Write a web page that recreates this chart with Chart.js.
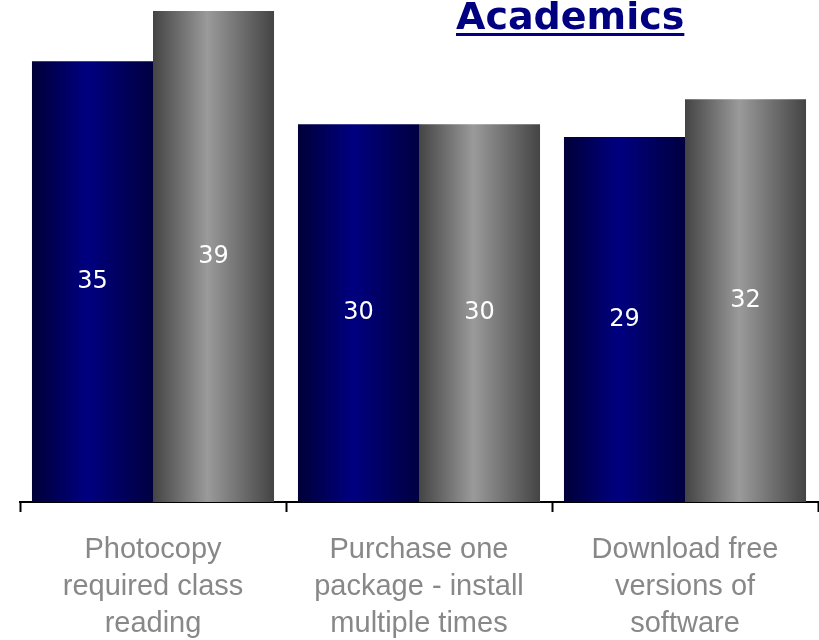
<!DOCTYPE html>
<html>
<head>
<meta charset="utf-8">
<script src="https://cdn.jsdelivr.net/npm/chart.js@4"></script>
<style>
  body { margin: 0; background: #fff; }
  #wrap { position: relative; width: 819px; height: 640px; }
  #title {
    position: absolute; left: 456px; top: -6px; line-height: 38px;
    font: bold 38px "DejaVu Sans", Verdana, sans-serif;
    color: #000080; text-decoration: underline;
    text-decoration-thickness: 3px; text-underline-offset: 4px;
  }
</style>
</head>
<body>
<div id="wrap">
  <canvas id="chart" width="819" height="640"></canvas>
  <div id="title">Academics</div>
</div>
<script>
const categories = [
    ['Photocopy', 'required class', 'reading'],
    ['Purchase one', 'package - install', 'multiple times'],
    ['Download free', 'versions of', 'software']
];
const seriesA = [35, 30, 29];
const seriesB = [39, 30, 32];

// horizontal cylinder-like shading for each bar
const shading = {
    id: 'shading',
    beforeDatasetsDraw(chart) {
        const ctx = chart.ctx;
        const stops = [
            ['#000038', '#000080', '#000040'],
            ['#444444', '#9a9a9a', '#444444']
        ];
        chart.data.datasets.forEach((ds, i) => {
            chart.getDatasetMeta(i).data.forEach(bar => {
                const left = bar.x - bar.width / 2;
                const g = ctx.createLinearGradient(left, 0, left + bar.width, 0);
                g.addColorStop(0, stops[i][0]);
                g.addColorStop(0.45, stops[i][1]);
                g.addColorStop(1, stops[i][2]);
                bar.options.backgroundColor = g;
            });
        });
    }
};

const valueLabels = {
    id: 'valueLabels',
    afterDatasetsDraw(chart) {
        const ctx = chart.ctx;
        ctx.save();
        ctx.fillStyle = '#ffffff';
        ctx.font = '24px "DejaVu Sans", Verdana, sans-serif';
        ctx.textAlign = 'center';
        ctx.textBaseline = 'middle';
        chart.data.datasets.forEach((ds, i) => {
            chart.getDatasetMeta(i).data.forEach((bar, j) => {
                ctx.fillText(ds.data[j], bar.x, (bar.y + bar.base) / 2);
            });
        });
        ctx.restore();
    }
};

new Chart(document.getElementById('chart').getContext('2d'), {
    type: 'bar',
    data: {
        labels: categories,
        datasets: [
            // scriptable colour keeps each bar's options separate, the plugin fills them in
            { label: 'A', data: seriesA, backgroundColor: () => '#000080' },
            { label: 'B', data: seriesB, backgroundColor: () => '#888888' }
        ]
    },
    options: {
        responsive: false,
        animation: false,
        layout: { padding: { left: 20, right: 1, top: 11, bottom: 0 } },
        datasets: { bar: { categoryPercentage: 0.91, barPercentage: 1.0 } },
        plugins: { legend: { display: false }, tooltip: { enabled: false } },
        scales: {
            x: {
                afterFit(scale) { scale.height = 138; },
                grid: {
                    offset: true,
                    drawOnChartArea: false,
                    tickLength: 10,
                    tickColor: '#000',
                    tickWidth: 2
                },
                border: { color: '#000', width: 2 },
                ticks: {
                    color: '#888888',
                    padding: 19,
                    maxRotation: 0,
                    font: { family: '"Liberation Sans Narrow", "Liberation Sans", sans-serif', size: 29, lineHeight: '37px' }
                }
            },
            y: {
                display: false,
                min: 0,
                max: 39
            }
        }
    },
    plugins: [shading, valueLabels]
});
</script>
</body>
</html>
